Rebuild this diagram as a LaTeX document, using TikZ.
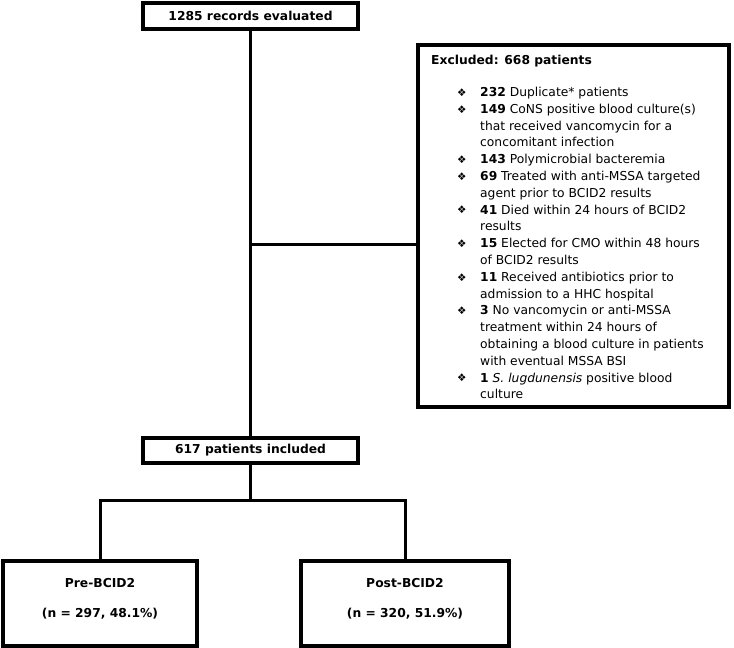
\documentclass[tikz,border=0pt]{standalone}
\usepackage{fontspec}
\setmainfont{DejaVu Sans}
\newcommand{\bul}{\makebox[23pt][l]{\raisebox{0.3pt}{\fontsize{10.5}{10}\selectfont ❖}}}
\newcommand{\ind}{\hspace*{23pt}}
\begin{document}
\begin{tikzpicture}[x=1pt,y=-1pt,
  box/.style={draw=black,line width=3.2pt,rectangle,fill=white,inner sep=0pt,
    font=\fontsize{12.3}{14}\selectfont\bfseries},
  lab/.style={inner sep=0pt,align=center,font=\fontsize{12.3}{30}\selectfont\bfseries},
  link/.style={draw=black,line width=3pt,line cap=rect,line join=miter}]
\useasboundingbox (0,0) rectangle (734,648);

% boxes
\node[box,minimum width=215pt,minimum height=26pt] (top) at (250.5,16) {1285 records evaluated};
\node[box,minimum width=215pt,minimum height=25pt] (incl) at (250.5,450.5) {617 patients included};
\node[box,minimum width=311pt,minimum height=362pt] (excl) at (573.5,226) {};
\node[box,minimum width=194pt,minimum height=85pt] (pre) at (100,603.5) {};
\node[box,minimum width=208pt,minimum height=85pt] (post) at (405,603.5) {};

% group labels
\node[lab,yshift=4.5pt] (prel) at (pre.center) {Pre-BCID2\\(n = 297, 48.1\%)};
\node[lab,yshift=4.5pt] (postl) at (post.center) {Post-BCID2\\(n = 320, 51.9\%)};

% contents of the exclusion box
\node[anchor=west,inner sep=0pt,font=\fontsize{12.3}{14}\selectfont\bfseries] (exh) at (431,61.5) {Excluded: 668 patients};
\node[anchor=north west,inner sep=0pt,align=left,font=\fontsize{12.3}{16.8}\selectfont] (exl) at (457,87) {%
\bul\textbf{232} Duplicate* patients\\
\bul\textbf{149} CoNS positive blood culture(s)\\
\ind that received vancomycin for a\\
\ind concomitant infection\\
\bul\textbf{143} Polymicrobial bacteremia\\
\bul\textbf{69} Treated with anti-MSSA targeted\\
\ind agent prior to BCID2 results\\
\bul\textbf{41} Died within 24 hours of BCID2\\
\ind results\\
\bul\textbf{15} Elected for CMO within 48 hours\\
\ind of BCID2 results\\
\bul\textbf{11} Received antibiotics prior to\\
\ind admission to a HHC hospital\\
\bul\textbf{3} No vancomycin or anti-MSSA\\
\ind treatment within 24 hours of\\
\ind obtaining a blood culture in patients\\
\ind with eventual MSSA BSI\\
\bul\textbf{1} \textit{S. lugdunensis} positive blood\\
\ind culture};

% connectors
\coordinate (br) at (250.5,244);
\coordinate (split) at (250.5,500);
\draw[link] (top.south) -- (incl.north);
\draw[link] (br) -- (br -| excl.west);
\draw[link] (incl.south) -- (split);
\draw[link] (pre.north) |- (split) -| (post.north);
\end{tikzpicture}
\end{document}
